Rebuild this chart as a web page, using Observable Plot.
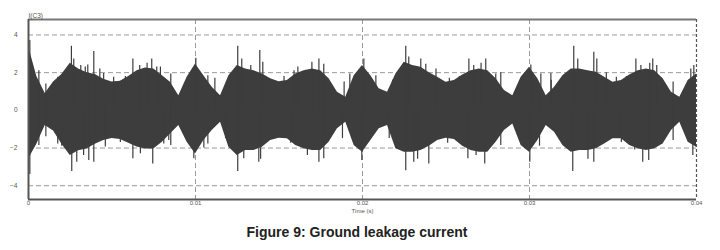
<!DOCTYPE html>
<html>
<head>
<meta charset="utf-8">
<script src="https://cdn.jsdelivr.net/npm/d3@7"></script>
<script src="https://cdn.jsdelivr.net/npm/@observablehq/plot@0.6"></script>
<style>
  body { margin: 0; background: #fff; }
  #caption { font: 700 14px "Liberation Sans", Arial, sans-serif; color: #222; text-align: center; padding-right: 6px; margin-top: 6px; line-height: 16px; }
  svg { display: block; }
</style>
</head>
<body>
<div id="chart"></div>
<div id="caption">Figure 9: Ground leakage current</div>
<script>
// Sample times (s) of the envelope of the dense waveform
const times = [0,0.0005,0.001,0.0015,0.002,0.0025,0.003,0.0035,0.004,0.0045,
  0.005,0.0055,0.006,0.0065,0.007,0.0075,0.008,0.0085,0.009,0.0095,
  0.01,0.0105,0.011,0.0115,0.012,0.0125,0.013,0.0135,0.014,0.0145,
  0.015,0.0155,0.016,0.0165,0.017,0.0175,0.018,0.0185,0.019,0.0195,
  0.02,0.0205,0.021,0.0215,0.022,0.0225,0.023,0.0235,0.024,0.0245,
  0.025,0.0255,0.026,0.0265,0.027,0.0275,0.028,0.0285,0.029,0.0295,
  0.03,0.0305,0.031,0.0315,0.032,0.0325,0.033,0.0335,0.034,0.0345,
  0.035,0.0355,0.036,0.0365,0.037,0.0375,0.038,0.0385,0.039,0.0395,0.04];
// Upper envelope of the current (A)
const upper = [3.4,1.8,0.9,1.5,1.9,2.5,2.2,2.0,1.9,1.65,
  1.5,1.55,1.8,2.1,2.25,2.2,1.85,1.49,0.78,1.76,
  2.46,1.84,1.23,0.78,1.84,2.38,2.2,2.1,1.93,1.67,
  1.52,1.58,1.93,2.1,2.2,2.1,1.67,0.96,0.7,1.84,
  2.38,1.84,1.14,0.96,1.93,2.55,2.38,2.29,2.0,1.76,
  1.49,1.58,1.88,2.1,2.2,2.1,1.67,1.05,0.78,1.76,
  2.29,1.67,0.78,1.23,1.84,2.2,2.2,2.1,2.02,1.76,
  1.49,1.58,1.88,2.1,2.2,2.1,1.67,0.96,0.7,1.58,1.93];
// Lower envelope of the current (A)
const lower = [-2.6,-1.8,-0.8,-1.1,-1.8,-2.4,-2.15,-2.05,-1.8,-1.6,
  -1.5,-1.55,-1.75,-1.95,-2.05,-2.05,-1.7,-1.25,-0.8,-1.69,
  -2.31,-1.6,-1.07,-0.63,-1.96,-2.4,-2.13,-2.13,-1.96,-1.6,
  -1.48,-1.51,-1.87,-2.04,-2.13,-2.13,-1.69,-0.98,-0.63,-1.87,
  -2.22,-1.6,-0.98,-0.8,-2.04,-2.22,-2.22,-2.13,-1.9,-1.6,
  -1.48,-1.55,-1.9,-2.13,-2.22,-2.22,-1.69,-1.07,-0.72,-1.87,
  -2.22,-1.6,-0.8,-1.16,-1.87,-2.22,-2.13,-2.13,-2.04,-1.78,
  -1.51,-1.51,-1.87,-2.04,-2.13,-2.04,-1.78,-1.07,-0.63,-1.69,-1.96];
// Positive spikes
const spikeUpT = [0.00008,0.00062,0.00104,0.00175,0.00257,0.00271,0.00313,0.0034,0.00355,0.00391,0.00427,
  0.0045,0.0051,0.0058,0.00625,0.00666,0.0071,0.00738,0.00768,0.0079,0.00852,0.01002,0.01074,0.01116,0.01253,0.01277,
  0.01331,0.01385,0.01403,0.0153,0.0159,0.01613,0.01697,0.01739,0.01768,0.0189,0.01924,0.02008,0.0208,0.0218,
  0.02259,0.02277,0.02349,0.02379,0.0244,0.0252,0.0258,0.02637,0.02666,0.0271,0.02738,0.02798,0.02828,0.03008,
  0.03068,0.03128,0.0313,0.03265,0.03289,0.03385,0.03403,0.0346,0.0352,0.0358,0.03637,0.03667,0.0372,0.03738,0.03762,0.0386,0.03966,0.03984];
const spikeUpV = [3.7,2.1,1.4,1.76,3.4,2.73,2.38,2.3,2.4,3.12,2.2,
  1.95,1.75,1.8,2.73,2.38,2.5,2.73,2.3,2.3,1.93,2.76,1.84,1.7,3.4,2.73,
  2.38,3.17,2.55,1.8,2.1,2.3,2.55,2.73,2.45,1.5,1.93,2.73,1.84,1.6,
  3.4,2.83,2.73,2.45,2.2,1.7,1.8,2.73,2.38,2.5,2.73,1.93,2.0,2.4,
  1.93,1.95,1.6,3.4,2.73,3.08,2.73,2.0,1.75,1.8,2.73,2.38,2.5,2.73,2.38,1.5,2.2,2.38];
// Negative spikes
const spikeDnT = [0.00008,0.00062,0.00104,0.00175,0.00199,0.00259,0.00289,0.0033,0.00361,0.00391,0.0046,0.0055,0.00625,0.0067,
  0.00744,0.0081,0.0084,0.00852,0.0099,0.0105,0.01074,0.0118,0.01253,0.01289,0.0139,0.01379,0.0157,0.0167,0.01739,0.01768,0.0188,
  0.01996,0.0216,0.0233,0.02259,0.02307,0.02397,0.0251,0.0268,0.02631,0.02732,0.02828,0.03002,0.0306,0.0318,0.03259,0.0335,0.03385,
  0.0355,0.0363,0.03678,0.03714,0.0386,0.03978];
const spikeDnV = [-3.4,-1.87,-1.4,-1.78,-1.9,-3.25,-2.75,-2.4,-2.66,-2.75,-1.95,-1.7,-2.57,-2.3,
  -2.84,-1.78,-1.6,-1.87,-2.57,-2.0,-1.78,-1.5,-3.25,-2.57,-2.6,-2.75,-1.75,-2.4,-2.75,-2.57,-1.5,
  -2.66,-1.5,-2.6,-3.2,-2.75,-2.84,-1.75,-2.4,-2.57,-2.84,-1.87,-2.75,-1.9,-1.6,-3.25,-2.6,-2.75,
  -1.7,-2.1,-2.75,-2.66,-1.6,-2.4];
// Axis ticks
const yTicks = [-4,-2,0,2,4];
const xTicks = [0,0.01,0.02,0.03,0.04];
const xTickLabels = ["0","0.01","0.02","0.03","0.04"];
const xGrid = [0.01,0.02,0.03];
const yDomain = [-4.73,4.82];

const env = times.map((t,i) => ({t, hi: upper[i], lo: lower[i]}));
const ups = spikeUpT.map((t,i) => ({t, v: spikeUpV[i]}));
const dns = spikeDnT.map((t,i) => ({t, v: spikeDnV[i]}));

const ink = "#3d3d3d";
const grid = "#9a9a9a";
const chart = Plot.plot({
  width: 720,
  height: 218,
  marginLeft: 28,
  marginRight: 24,
  marginTop: 19,
  marginBottom: 19,
  style: {fontFamily: "'Liberation Sans', Arial, sans-serif", color: "#555", background: "#fff"},
  x: {domain: [0,0.04]},
  y: {domain: yDomain},
  marks: [
    Plot.ruleY(yTicks, {stroke: grid, strokeDasharray: "5,3", strokeWidth: 1}),
    Plot.ruleX(xGrid, {stroke: grid, strokeDasharray: "5,3", strokeWidth: 1}),
    Plot.ruleX([0.04], {stroke: "#555", strokeDasharray: "3,2", strokeWidth: 1.2}),
    Plot.areaY(env, {x: "t", y1: "lo", y2: "hi", fill: ink}),
    Plot.ruleX(ups, {x: "t", y1: 0, y2: "v", stroke: ink, strokeWidth: 1.2}),
    Plot.ruleX(dns, {x: "t", y1: 0, y2: "v", stroke: ink, strokeWidth: 1.2}),
    Plot.ruleY([yDomain[1]], {stroke: "#777", strokeWidth: 2}),
    Plot.ruleY([yDomain[0]], {stroke: "#555", strokeWidth: 2}),
    Plot.ruleX([0], {stroke: "#555", strokeWidth: 2}),
    Plot.axisY({ticks: yTicks, tickSize: 0, tickPadding: 11, fontSize: 6.5, label: null}),
    Plot.axisX({ticks: xTicks, tickFormat: (d,i) => xTickLabels[i], tickSize: 0, tickPadding: 1, fontSize: 6, label: null}),
    Plot.text(["Time (s)"], {frameAnchor: "bottom", dy: 13, fontSize: 6, fill: "#555"}),
    Plot.text(["I(C3)"], {frameAnchor: "top-left", dy: -6, textAnchor: "start", fontSize: 6.5, fill: "#555"})
  ]
});
document.getElementById("chart").appendChild(chart);
</script>
</body>
</html>
